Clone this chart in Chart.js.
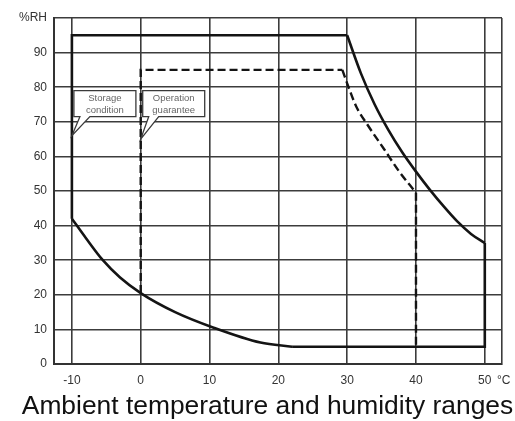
<!DOCTYPE html>
<html>
<head>
<meta charset="utf-8">
<script src="https://cdn.jsdelivr.net/npm/chart.js@4/dist/chart.umd.min.js"></script>
<style>
  html, body { margin: 0; padding: 0; background: #fff; }
  #wrap { width: 515px; height: 421px; position: relative; }
</style>
</head>
<body>
<div id="wrap"><canvas id="chart"></canvas></div>
<script>
// temperature axis (°C) and humidity axis (%RH)
const X_MIN = -12.6;
const X_MAX = 52.5;
const X_TICKS = [-10, 0, 10, 20, 30, 40, 50];
const Y_MAX = 100;
const Y_STEP = 10;
const TITLE = 'Ambient temperature and humidity ranges';

// storage condition outline, split into straight edges and curved sides
const storageTopEdge = [[-10, 42], [-10, 95], [30, 95]];
const storageHotSide = [[30, 95], [32, 84], [34, 75], [36, 67.6], [38, 61.2], [40, 55.6], [42, 50.4], [44, 45.6], [46, 41.2], [48, 37.6], [50, 35]];
const storageRightEdge = [[50, 35], [50, 5], [22, 5]];
const storageColdSide = [[-10, 42], [-8, 36.5], [-5.5, 30], [-3, 25], [0, 20.5], [5, 15], [10.6, 10.5], [17.4, 6.2], [22, 5]];

// operation guarantee outline (dashed)
const operationTopEdge = [[0, 20.5], [0, 85], [29.3, 85]];
const operationHotSide = [[29.3, 85], [30.3, 79.5], [31.3, 74.5], [33, 69], [35.4, 62], [37.5, 55.8], [40, 49.5]];
const operationRightEdge = [[40, 49.5], [40, 5]];

// callout bubbles: text lines and the point the tail touches
const calloutLines = [['Storage', 'condition'], ['Operation', 'guarantee']];
const calloutTips = [[-10, 66], [0, 65]];
const CALLOUT_TOP = 79;

const FONT = "'Liberation Sans', Arial, Helvetica, sans-serif";
const INK = '#141414';
const GRID = '#3c3c3c';

const toXY = (pts) => pts.map(([x, y]) => ({ x, y }));

const solid = (pts, curved) => ({
  data: toXY(pts),
  borderColor: INK,
  borderWidth: 2.6,
  pointRadius: 0,
  fill: false,
  tension: 0,
  cubicInterpolationMode: curved ? 'monotone' : 'default',
  borderJoinStyle: 'miter',
});

const dashed = (pts, curved) => ({
  ...solid(pts, curved),
  borderDash: [8, 4],
  borderWidth: 2.4,
});

const calloutPlugin = {
  id: 'callouts',
  afterDatasetsDraw(chart) {
    const { ctx, scales } = chart;
    const w = 62;
    const h = 26;
    calloutLines.forEach((lines, i) => {
      const [tx, ty] = calloutTips[i];
      const tipX = scales.x.getPixelForValue(tx);
      const tipY = scales.y.getPixelForValue(ty);
      const top = scales.y.getPixelForValue(CALLOUT_TOP);
      const left = tipX + 2;
      ctx.save();
      ctx.beginPath();
      ctx.moveTo(left, top);
      ctx.lineTo(left + w, top);
      ctx.lineTo(left + w, top + h);
      ctx.lineTo(left + 16, top + h);
      ctx.lineTo(tipX, tipY);
      ctx.lineTo(left + 6, top + h);
      ctx.lineTo(left, top + h);
      ctx.closePath();
      ctx.fillStyle = '#fff';
      ctx.fill();
      ctx.strokeStyle = '#3a3a3a';
      ctx.lineWidth = 1.3;
      ctx.stroke();
      ctx.fillStyle = '#666';
      ctx.font = '9.5px ' + FONT;
      ctx.textAlign = 'center';
      ctx.textBaseline = 'middle';
      lines.forEach((t, j) => {
        ctx.fillText(t, left + w / 2, top + 7.5 + j * 12);
      });
      ctx.restore();
    });
  },
};

// caption under the x axis, sized to run almost the full width
const captionPlugin = {
  id: 'caption',
  afterDraw(chart) {
    const { ctx, chartArea } = chart;
    ctx.save();
    ctx.font = '100px ' + FONT;
    const size = (100 * 491) / ctx.measureText(TITLE).width;
    ctx.font = size.toFixed(1) + 'px ' + FONT;
    ctx.fillStyle = '#111';
    ctx.textAlign = 'center';
    ctx.textBaseline = 'middle';
    ctx.fillText(TITLE, 267.5, chartArea.bottom + 43);
    ctx.restore();
  },
};

new Chart(document.getElementById('chart'), {
  type: 'line',
  data: {
    datasets: [
      solid(storageTopEdge, false),
      solid(storageHotSide, true),
      solid(storageRightEdge, false),
      solid(storageColdSide, true),
      dashed(operationTopEdge, false),
      dashed(operationHotSide, true),
      dashed(operationRightEdge, false),
    ],
  },
  options: {
    responsive: true,
    maintainAspectRatio: false,
    animation: false,
    layout: { padding: { top: 18, left: 0, right: 13, bottom: 31 } },
    plugins: {
      legend: { display: false },
      tooltip: { enabled: false },
    },
    scales: {
      x: {
        type: 'linear',
        min: X_MIN,
        max: X_MAX,
        afterBuildTicks: (scale) => {
          scale.ticks = [X_MIN, ...X_TICKS, X_MAX].map((value) => ({ value }));
        },
        afterFit: (scale) => {
          scale.height = 26;
        },
        ticks: {
          autoSkip: false,
          maxRotation: 0,
          padding: 3,
          color: '#333',
          font: { family: FONT, size: 12 },
          callback: (v) => (v === X_MAX ? ' \u00b0C' : v === X_MIN ? '' : v),
        },
        grid: { color: GRID, lineWidth: 1.6, drawTicks: true, tickLength: 6, tickColor: 'rgba(0,0,0,0)' },
        border: { color: '#333', width: 2 },
      },
      y: {
        min: 0,
        max: Y_MAX,
        afterFit: (scale) => {
          scale.width = 54;
        },
        ticks: {
          stepSize: Y_STEP,
          padding: 7,
          color: '#333',
          font: { family: FONT, size: 12 },
          callback: (v) => (v === Y_MAX ? '%RH' : v),
        },
        grid: { color: GRID, lineWidth: 1.6, drawTicks: false },
        border: { color: '#333', width: 2 },
      },
    },
  },
  plugins: [calloutPlugin, captionPlugin],
});
</script>
</body>
</html>
